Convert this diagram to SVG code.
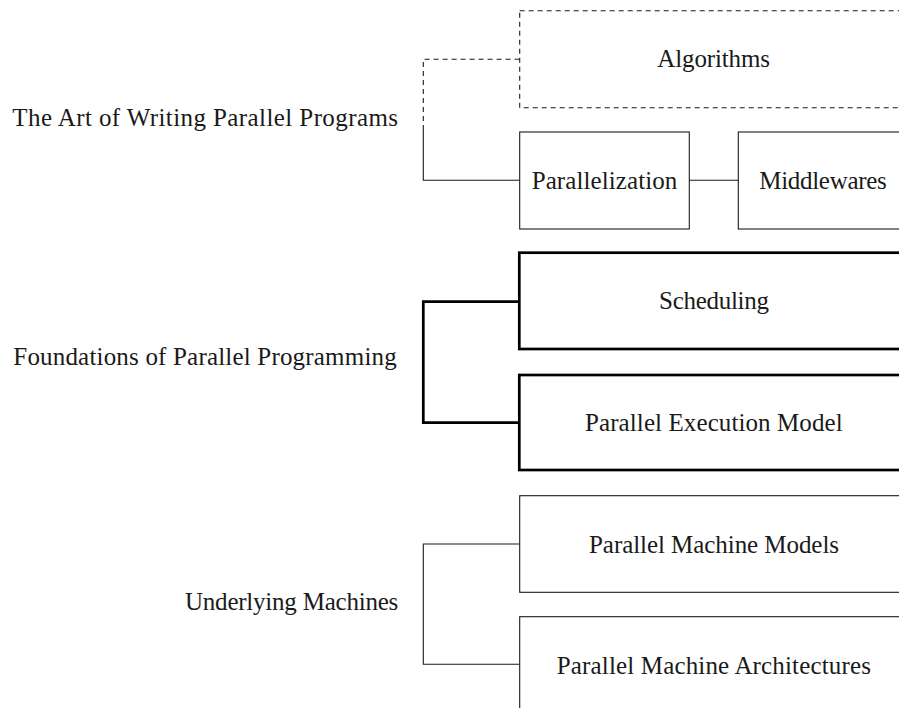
<svg xmlns="http://www.w3.org/2000/svg" width="899" height="708" viewBox="0 0 899 708">
  <style>
    .box { fill: #ffffff; stroke: #1a1a1a; stroke-width: 1.1; }
    .dash { stroke-dasharray: 5 4; }
    .thick { stroke-width: 2.7; stroke: #000; }
    .conn { fill: none; stroke: #1a1a1a; stroke-width: 1.1; }
    .conn.thick { stroke-width: 2.7; stroke: #000; }
    .t { font-family: 'Liberation Serif', 'Times New Roman', 'DejaVu Serif', serif; font-size: 25px; fill: #1a1a1a; }
  </style>
  <rect width="899" height="708" fill="#ffffff"/>

  <g id="connectors">
    <path class="conn dash" d="M423.3 130 V59.3 H519.7"/>
    <path class="conn" d="M423.3 130 V180.3 H519.7"/>
    <path class="conn" d="M689.3 180.3 H738.3"/>
    <path class="conn thick" d="M519.3 301.7 H423.3 V422.7 H519.3"/>
    <path class="conn" d="M519.7 544 H423.3 V664.3 H519.7"/>
  </g>

  <g id="label-art">
    <text class="t" x="12.3" y="126" textLength="385.7" lengthAdjust="spacing">The Art of Writing Parallel Programs</text>
  </g>
  <g id="label-foundations">
    <text class="t" x="13.3" y="365" textLength="383.4" lengthAdjust="spacing">Foundations of Parallel Programming</text>
  </g>
  <g id="label-machines">
    <text class="t" x="185" y="610" textLength="213.3" lengthAdjust="spacing">Underlying Machines</text>
  </g>

  <g id="node-algorithms">
    <rect class="box dash" x="519.7" y="10.7" width="388" height="97"/>
    <text class="t" x="657.3" y="66.5" textLength="112.7" lengthAdjust="spacing">Algorithms</text>
  </g>
  <g id="node-parallelization">
    <rect class="box" x="519.7" y="132" width="169.6" height="97"/>
    <text class="t" x="531.7" y="189" textLength="145.6" lengthAdjust="spacing">Parallelization</text>
  </g>
  <g id="node-middlewares">
    <rect class="box" x="738.3" y="132" width="170" height="97"/>
    <text class="t" x="759.3" y="189" textLength="127.4" lengthAdjust="spacing">Middlewares</text>
  </g>
  <g id="node-scheduling">
    <rect class="box thick" x="519.3" y="252.7" width="389" height="96.3"/>
    <text class="t" x="659" y="309" textLength="110" lengthAdjust="spacing">Scheduling</text>
  </g>
  <g id="node-execution-model">
    <rect class="box thick" x="519.3" y="375" width="389" height="95"/>
    <text class="t" x="585" y="431" textLength="257.7" lengthAdjust="spacing">Parallel Execution Model</text>
  </g>
  <g id="node-machine-models">
    <rect class="box" x="519.7" y="495.7" width="388" height="96.6"/>
    <text class="t" x="589" y="553" textLength="250" lengthAdjust="spacing">Parallel Machine Models</text>
  </g>
  <g id="node-machine-architectures">
    <rect class="box" x="519.7" y="616.7" width="388" height="97"/>
    <text class="t" x="556.7" y="674" textLength="314.3" lengthAdjust="spacing">Parallel Machine Architectures</text>
  </g>
</svg>
